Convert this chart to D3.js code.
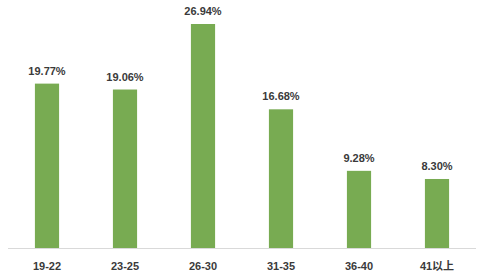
<!DOCTYPE html>
<html><head><meta charset="utf-8">
<script src="https://cdn.jsdelivr.net/npm/d3@7"></script>
<style>body{margin:0;background:#fff}</style>
</head><body>
<svg id="c" width="480" height="278"></svg>
<script>
const categories = ["19-22","23-25","26-30","31-35","36-40","41以上"];
const values = [19.77, 19.06, 26.94, 16.68, 9.28, 8.30];
const labels = ["19.77%","19.06%","26.94%","16.68%","9.28%","8.30%"];

const svg = d3.select("#c");
const x = d3.scaleBand().domain(categories).range([8, 476]).paddingInner(0.69).paddingOuter(0.345);
const y = d3.scaleLinear().domain([0, 26.94]).range([248, 24]);

svg.selectAll("rect.bar").data(values).join("rect")
  .attr("class","bar")
  .attr("x",(d,i)=>x(categories[i]))
  .attr("width",x.bandwidth())
  .attr("y",d=>y(d))
  .attr("height",d=>y(0)-y(d))
  .attr("fill","#78ab52");

svg.append("line").attr("x1",8).attr("x2",476).attr("y1",248.5).attr("y2",248.5)
  .attr("stroke","#d9d9d9").attr("stroke-width",1);

svg.selectAll("text.val").data(values).join("text")
  .attr("class","val")
  .attr("x",(d,i)=>x(categories[i])+x.bandwidth()/2)
  .attr("y",d=>y(d)-9)
  .attr("text-anchor","middle")
  .attr("font-family","Liberation Sans, Arial, sans-serif")
  .attr("font-weight","bold").attr("font-size",11).attr("fill","#3a3a3a")
  .text((d,i)=>labels[i]);

svg.selectAll("text.cat").data(categories).join("text")
  .attr("class","cat")
  .attr("x",d=>x(d)+x.bandwidth()/2)
  .attr("y",270)
  .attr("text-anchor","middle")
  .attr("font-family","Liberation Sans, Noto Sans CJK SC, sans-serif")
  .attr("font-weight","bold").attr("font-size",11).attr("fill","#3a3a3a")
  .text(d=>d);
</script>
</body></html>
